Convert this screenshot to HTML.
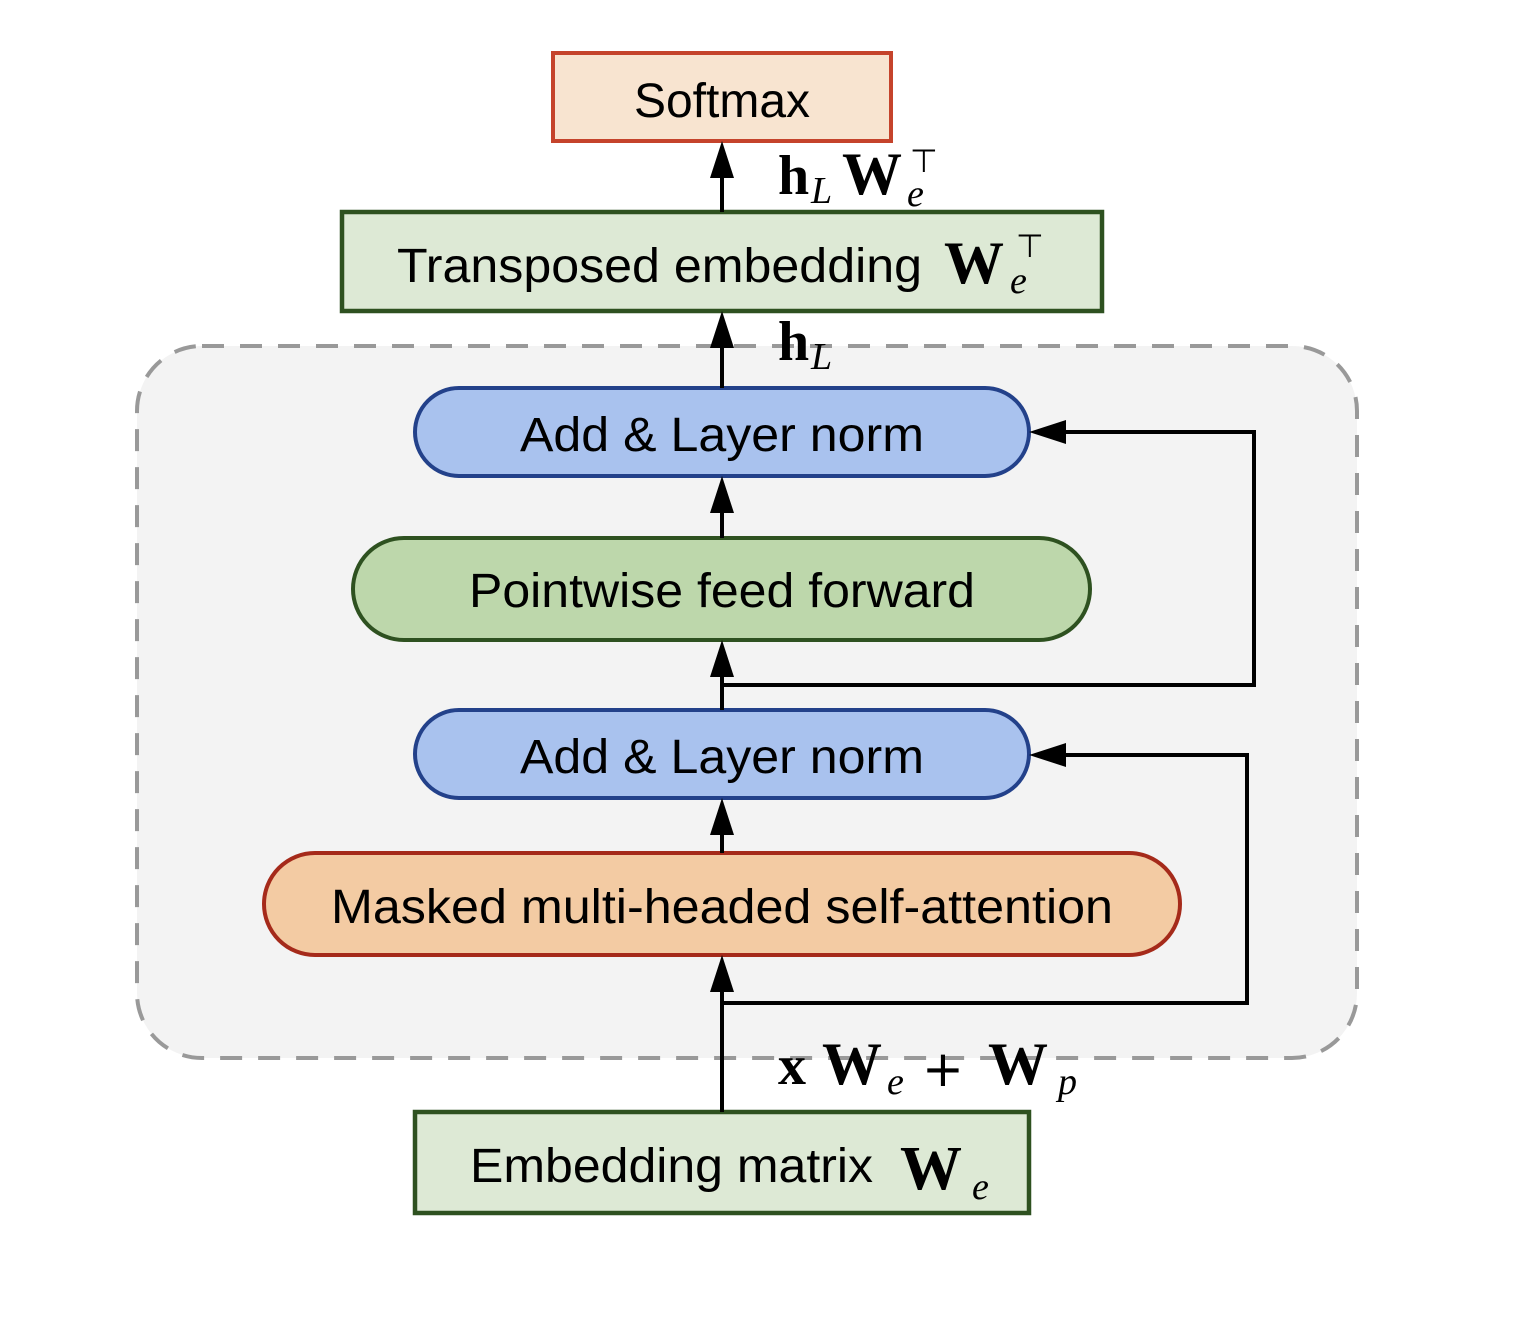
<!DOCTYPE html>
<html><head><meta charset="utf-8"><style>html,body{margin:0;padding:0;background:#fff}svg{display:block}
.s{font-family:"Liberation Sans",sans-serif;font-size:48px;fill:#000}
.m{font-family:"Liberation Serif",serif;font-weight:bold;fill:#000}
.i{font-family:"Liberation Serif",serif;font-style:italic;fill:#000}
.t{font-family:"DejaVu Sans",sans-serif;fill:#000}
</style></head><body>
<svg width="1520" height="1318" viewBox="0 0 1520 1318" xmlns="http://www.w3.org/2000/svg">
<rect x="137" y="346" width="1220" height="712" rx="65" fill="#f3f3f3" stroke="#999" stroke-width="4" stroke-dasharray="22,16"/>
<rect x="553" y="53" width="338" height="88" fill="#f8e4d0" stroke="#c5432b" stroke-width="4"/>
<text class="s" x="722" y="117" text-anchor="middle">Softmax</text>
<rect x="342" y="212" width="760" height="99" fill="#dde9d5" stroke="#2e5120" stroke-width="4.5"/>
<text class="s" x="397" y="282" textLength="525" lengthAdjust="spacingAndGlyphs">Transposed embedding</text>
<text class="m" x="944" y="283" font-size="60">W</text>
<text class="i" x="1010" y="293" font-size="38">e</text>
<text class="t" x="1016" y="257" font-size="32">⊤</text>
<rect x="415" y="388" width="614" height="88" rx="44" fill="#a9c2ee" stroke="#23418a" stroke-width="4"/>
<text class="s" x="722" y="451" text-anchor="middle" textLength="404" lengthAdjust="spacingAndGlyphs">Add &amp; Layer norm</text>
<rect x="353" y="538" width="737" height="102" rx="51" fill="#bdd7ab" stroke="#2e5120" stroke-width="4"/>
<text class="s" x="722" y="607" text-anchor="middle" textLength="506" lengthAdjust="spacingAndGlyphs">Pointwise feed forward</text>
<rect x="415" y="710" width="614" height="88" rx="44" fill="#a9c2ee" stroke="#23418a" stroke-width="4"/>
<text class="s" x="722" y="773" text-anchor="middle" textLength="404" lengthAdjust="spacingAndGlyphs">Add &amp; Layer norm</text>
<rect x="264" y="853" width="916" height="102" rx="51" fill="#f3cba3" stroke="#a52a1a" stroke-width="4"/>
<text class="s" x="722" y="923" text-anchor="middle" textLength="782" lengthAdjust="spacingAndGlyphs">Masked multi-headed self-attention</text>
<rect x="415" y="1112" width="614" height="101" fill="#dde9d5" stroke="#2e5120" stroke-width="4.5"/>
<text class="s" x="470" y="1182" textLength="403" lengthAdjust="spacingAndGlyphs">Embedding matrix</text>
<text class="m" x="900" y="1189" font-size="62">W</text>
<text class="i" x="972" y="1199" font-size="38">e</text>
<g stroke="#000" stroke-width="4" fill="none">
<line x1="722" y1="1112" x2="722" y2="985"/>
<polyline points="722,1003 1247,1003 1247,755 1060,755"/>
<line x1="722" y1="853" x2="722" y2="830"/>
<line x1="722" y1="710" x2="722" y2="672"/>
<polyline points="722,685 1254,685 1254,432 1060,432"/>
<line x1="722" y1="538" x2="722" y2="508"/>
<line x1="722" y1="388" x2="722" y2="343"/>
<line x1="722" y1="212" x2="722" y2="173"/>
</g>
<g fill="#000">
<polygon points="722,955 710,992 734,992"/>
<polygon points="722,798 710,835 734,835"/>
<polygon points="722,640 710,677 734,677"/>
<polygon points="722,476 710,513 734,513"/>
<polygon points="722,311 710,348 734,348"/>
<polygon points="722,141 710,178 734,178"/>
<polygon points="1029,755 1066,743 1066,767"/>
<polygon points="1029,432 1066,420 1066,444"/>
</g>
<text class="m" x="778" y="194" font-size="56">h</text>
<text class="i" x="811" y="203" font-size="38">L</text>
<text class="m" x="842" y="194" font-size="60">W</text>
<text class="i" x="907" y="206" font-size="38">e</text>
<text class="t" x="910" y="172" font-size="32">⊤</text>
<text class="m" x="778" y="360" font-size="56">h</text>
<text class="i" x="811" y="369" font-size="38">L</text>
<text class="m" x="778" y="1084" font-size="56">x</text>
<text class="m" x="822" y="1084" font-size="60">W</text>
<text class="i" x="887" y="1094" font-size="38">e</text>
<text class="t" x="922" y="1086" font-size="50">+</text>
<text class="m" x="988" y="1084" font-size="60">W</text>
<text class="i" x="1058" y="1094" font-size="38">p</text>
</svg>
</body></html>
